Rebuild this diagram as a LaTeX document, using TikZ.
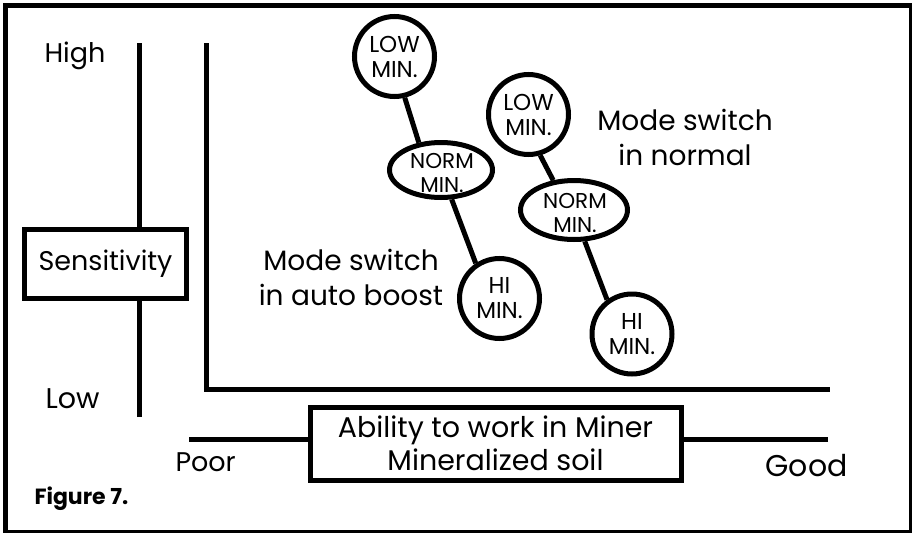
\documentclass[tikz,border=0pt]{standalone}
\usepackage{fontspec}
\setmainfont{Poppins}
\usetikzlibrary{shapes.geometric}
\begin{document}
\begin{tikzpicture}[x=1pt,y=-1pt,line width=5pt,
  lbl/.style={inner sep=0pt,font=\fontsize{27}{30}\selectfont},
  modetxt/.style={inner sep=0pt,font=\fontsize{28}{30}\selectfont},
  figtxt/.style={inner sep=0pt,font=\bfseries\fontsize{22}{26}\selectfont},
  minc/.style={circle,draw,fill=white,minimum size=80pt,inner sep=0pt,align=center,
    font=\fontsize{23}{25}\selectfont},
  mine/.style={ellipse,draw,fill=white,inner sep=0pt},
  inl/.style={align=center,font=\fontsize{21.5}{24}\selectfont,inner sep=0pt},
  boxed/.style={draw,fill=white,inner sep=0pt,align=center}]
\useasboundingbox (0,0) rectangle (914,533);
% frame
\draw[line width=5pt] (5.5,532) -- (5.5,5) -- (912,5);
\draw[line width=2.5pt] (910.5,5) -- (910.5,531.7) -- (3,531.7);
% texts
\node[lbl,anchor=base west] (high) at (42,62) {High};
\node[lbl,anchor=base west,font=\fontsize{28.5}{30}\selectfont] (low) at (43,408) {Low};
\node[lbl,anchor=base west] (poor) at (173,471) {Poor};
\node[lbl,anchor=base west,font=\fontsize{30}{30}\selectfont] (good) at (763,476) {Good};
\node[figtxt,anchor=base west] (fig) at (32,504) {Figure 7.};
% sensitivity axis
\node[boxed,minimum width=162pt,minimum height=69pt,font=\fontsize{27}{30}\selectfont] (sens) at (105.5,264) {Sensitivity};
\coordinate (s1top) at (139.5,43);
\coordinate (s1bot) at (139.5,417);
\draw (s1top) -- (s1top |- sens.north);
\draw (s1bot) -- (s1bot |- sens.south);
% plot axes
\coordinate (ax1) at (206,43);
\coordinate (ax2) at (206,389);
\coordinate (ax3) at (830,389);
\draw[line join=miter] (ax1) -- (ax2) -- (ax3);
% ability box
\node[boxed,minimum width=371pt,minimum height=73pt,font=\fontsize{28.5}{33}\selectfont] (abil) at (495.5,443.5) {Ability to work in Miner\\Mineralized soil};
\coordinate (bl) at (189,439);
\coordinate (br) at (828,439);
\draw (bl) -- (bl -| abil.west);
\draw (br) -- (br -| abil.east);
% mode switch texts
\node[modetxt,anchor=base] (ma1) at (351,270) {Mode switch};
\node[modetxt,anchor=base] (ma2) at (351,305) {in auto boost};
\node[modetxt,anchor=base] (mn1) at (685,130) {Mode switch};
\node[modetxt,anchor=base] (mn2) at (685,165) {in normal};
% circles
\node[minc] (lo1) at (394.5,56.5) {LOW\\MIN.};
\node[mine,minimum width=103pt,minimum height=55pt] (no1) at (441,170) {};
\node[inl] (no1t) at (442,173) {NORM\\MIN.};
\node[minc] (hi1) at (499.5,298.5) {HI\\MIN.};
\node[minc] (lo2) at (528.5,114.5) {LOW\\MIN.};
\node[mine,minimum width=107pt,minimum height=59pt] (no2) at (574,210) {};
\node[inl] (no2t) at (575,213) {NORM\\MIN.};
\node[minc] (hi2) at (632,334) {HI\\MIN.};
% connectors
\draw (lo1.-76) -- (no1.129);
\draw (no1.-70) -- (hi1.124);
\draw (lo2.-74) -- (no2.125);
\draw (no2.-71) -- (hi2.126);
\end{tikzpicture}
\end{document}
